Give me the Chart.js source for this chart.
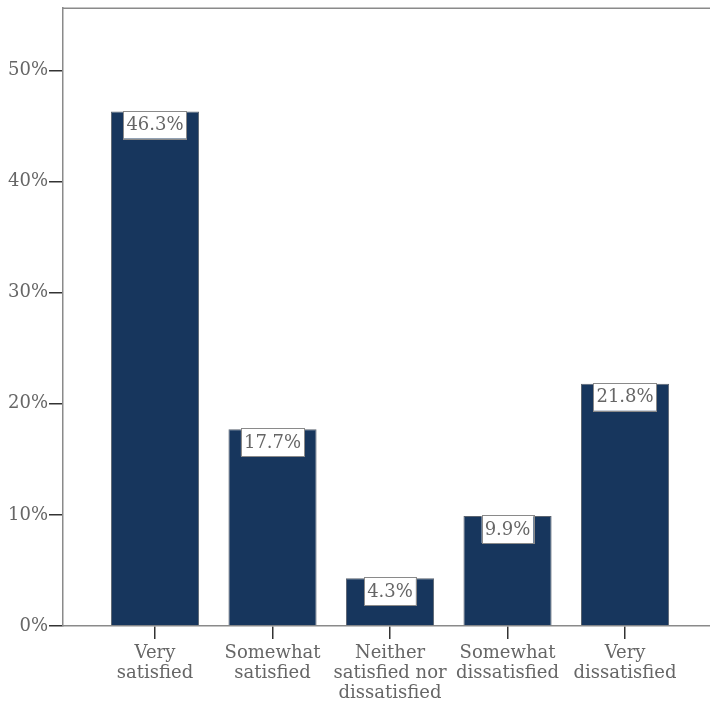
<!DOCTYPE html>
<html>
<head>
<meta charset="utf-8">
<script src="https://cdn.jsdelivr.net/npm/chart.js@4"></script>
<style>
  html, body { margin: 0; padding: 0; background: #fff; overflow: hidden; }
  #wrap { width: 710px; height: 701px; position: relative; }
</style>
</head>
<body>
<div id="wrap"><canvas id="myChart"></canvas></div>
<script>
// categories and values
var categories = [
  ['Very', 'satisfied'],
  ['Somewhat', 'satisfied'],
  ['Neither', 'satisfied nor', 'dissatisfied'],
  ['Somewhat', 'dissatisfied'],
  ['Very', 'dissatisfied']
];
var values = [46.3, 17.7, 4.3, 9.9, 21.8];
var yTicks = [0, 10, 20, 30, 40, 50];

var FONT = '"DejaVu Serif", "Liberation Serif", serif';
var TEXT = '#666666';

// white label boxes at the top of each bar
var barLabels = {
  id: 'barLabels',
  afterDatasetsDraw: function (chart) {
    var ctx = chart.ctx;
    var meta = chart.getDatasetMeta(0);
    ctx.save();
    ctx.font = '18px ' + FONT;
    ctx.textAlign = 'center';
    ctx.textBaseline = 'middle';
    meta.data.forEach(function (bar, i) {
      var txt = values[i].toFixed(1) + '%';
      var w = ctx.measureText(txt).width + 6;
      var h = 28;
      var x = bar.x - w / 2;
      var y = bar.y - 1;
      ctx.fillStyle = '#fff';
      ctx.fillRect(x, y, w, h);
      ctx.strokeStyle = '#8a8a8a';
      ctx.lineWidth = 1;
      ctx.strokeRect(Math.round(x) + 0.5, Math.round(y) + 0.5, Math.round(w), h);
      ctx.fillStyle = TEXT;
      ctx.fillText(txt, bar.x, y + h / 2 + 1);
    });
    ctx.restore();
  }
};

// top frame line
var topFrame = {
  id: 'topFrame',
  afterDraw: function (chart) {
    var a = chart.chartArea, ctx = chart.ctx;
    ctx.save();
    ctx.strokeStyle = '#8a8a8a';
    ctx.lineWidth = 1.5;
    ctx.beginPath();
    ctx.moveTo(a.left, a.top);
    ctx.lineTo(a.right, a.top);
    ctx.stroke();
    ctx.restore();
  }
};

new Chart('myChart', {
  type: 'bar',
  data: {
    datasets: [{
      data: values.map(function (v, i) { return { x: i, y: v }; }),
      backgroundColor: '#17365d',
      borderColor: '#5b6470',
      borderWidth: 1,
      barPercentage: 0.75,
      categoryPercentage: 1
    }]
  },
  options: {
    responsive: true,
    maintainAspectRatio: false,
    animation: false,
    layout: { padding: { top: 8, right: 0, left: 0, bottom: 0 } },
    plugins: { legend: { display: false }, tooltip: { enabled: false } },
    scales: {
      x: {
        type: 'linear',
        offset: false,
        min: -0.783,
        max: 4.723,
        afterBuildTicks: function (s) { s.ticks = categories.map(function (c, i) { return { value: i }; }); },
        afterFit: function (s) { s.height = 75; },
        grid: { offset: false, drawOnChartArea: false, tickLength: 13, color: '#333', lineWidth: 1.5 },
        border: { color: '#8a8a8a', width: 1.5 },
        ticks: {
          maxRotation: 0,
          autoSkip: false,
          padding: 4,
          color: TEXT,
          font: { family: FONT, size: 18, lineHeight: 1.12 },
          callback: function (v) { return categories[v]; }
        }
      },
      y: {
        min: 0,
        max: 55.6,
        afterBuildTicks: function (s) { s.ticks = yTicks.map(function (v) { return { value: v }; }); },
        afterFit: function (s) { s.width = 63; },
        grid: { drawOnChartArea: false, tickLength: 14, color: '#333', lineWidth: 1.5 },
        border: { color: '#8a8a8a', width: 1.5 },
        ticks: {
          padding: 1,
          color: TEXT,
          font: { family: FONT, size: 18, lineHeight: 0.8 },
          callback: function (v) { return v + '%'; }
        }
      }
    }
  },
  plugins: [barLabels, topFrame]
});
</script>
</body>
</html>
